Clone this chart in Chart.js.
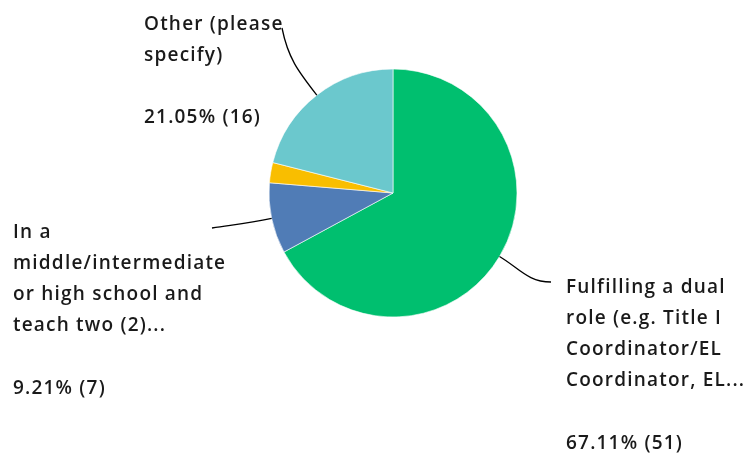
<!DOCTYPE html>
<html>
<head>
<meta charset="utf-8">
<script src="https://cdn.jsdelivr.net/npm/chart.js@4/dist/chart.umd.min.js"></script>
<style>
  html, body { margin: 0; padding: 0; background: #fff; }
  #wrap { width: 746px; height: 453px; position: relative; }
</style>
</head>
<body>
<div id="wrap"><canvas id="pie-chart"></canvas></div>
<script>
// answer choices, clockwise from 12 o'clock
const categories = [
  'Fulfilling a dual role (e.g. Title I Coordinator/EL Coordinator, EL...',
  'In a middle/intermediate or high school and teach two (2)...',
  '',
  'Other (please specify)'
];
const labelLines = [
  ['Fulfilling a dual', 'role (e.g. Title I', 'Coordinator/EL', 'Coordinator, EL...'],
  ['In a', 'middle/intermediate', 'or high school and', 'teach two (2)...'],
  null,
  ['Other (please', 'specify)']
];
const counts = [51, 7, 2, 16];
const percents = ['67.11%', '9.21%', '2.63%', '21.05%'];
const colors = ['#00BF6F', '#507CB6', '#F9BE00', '#6BC8CD'];

const FONT = '600 19px "Open Sans"';
const LINE_H = 31.3;

// where each callout's text block sits and where its leader line ends
const callouts = [
  { x: 566, y: 292.5, end: [551, 282], endDir: [-1, 0] },
  { x: 13, y: 237.5, end: [212, 228], endDir: [1, -0.15] },
  null,
  { x: 144, y: 29.5, end: [282, 28], endDir: [0.2, 1] }
];

const calloutPlugin = {
  id: 'callouts',
  afterDatasetsDraw(chart) {
    const ctx = chart.ctx;
    const meta = chart.getDatasetMeta(0);
    ctx.save();
    meta.data.forEach((arc, i) => {
      const c = callouts[i];
      if (!c || !labelLines[i]) return;
      const mid = (arc.startAngle + arc.endAngle) / 2;
      const dx = Math.cos(mid), dy = Math.sin(mid);
      const sx = arc.x + dx * arc.outerRadius;
      const sy = arc.y + dy * arc.outerRadius;
      const len = Math.hypot(c.end[0] - sx, c.end[1] - sy);
      ctx.beginPath();
      ctx.moveTo(sx, sy);
      ctx.bezierCurveTo(
        sx + dx * len * 0.4, sy + dy * len * 0.4,
        c.end[0] + c.endDir[0] * len * 0.4, c.end[1] + c.endDir[1] * len * 0.4,
        c.end[0], c.end[1]
      );
      ctx.strokeStyle = '#000';
      ctx.lineWidth = 1.3;
      ctx.stroke();

      ctx.fillStyle = '#1a1a1a';
      ctx.font = FONT;
      ctx.letterSpacing = '1.2px';
      ctx.textAlign = 'left';
      ctx.textBaseline = 'alphabetic';
      const lines = labelLines[i];
      lines.forEach((t, k) => ctx.fillText(t, c.x, c.y + k * LINE_H));
      ctx.fillText(percents[i] + ' (' + counts[i] + ')', c.x, c.y + (lines.length + 1) * LINE_H);
    });
    ctx.restore();
  }
};

new Chart(document.getElementById('pie-chart'), {
  type: 'pie',
  data: {
    labels: categories,
    datasets: [{
      data: counts,
      backgroundColor: colors,
      borderColor: '#ffffff',
      borderWidth: 0.6
    }]
  },
  options: {
    responsive: true,
    maintainAspectRatio: false,
    animation: false,
    radius: 124,
    layout: { padding: { left: 40, right: 0, top: 0, bottom: 67 } },
    plugins: {
      legend: { display: false },
      tooltip: { enabled: false }
    }
  },
  plugins: [calloutPlugin]
});
</script>
</body>
</html>
